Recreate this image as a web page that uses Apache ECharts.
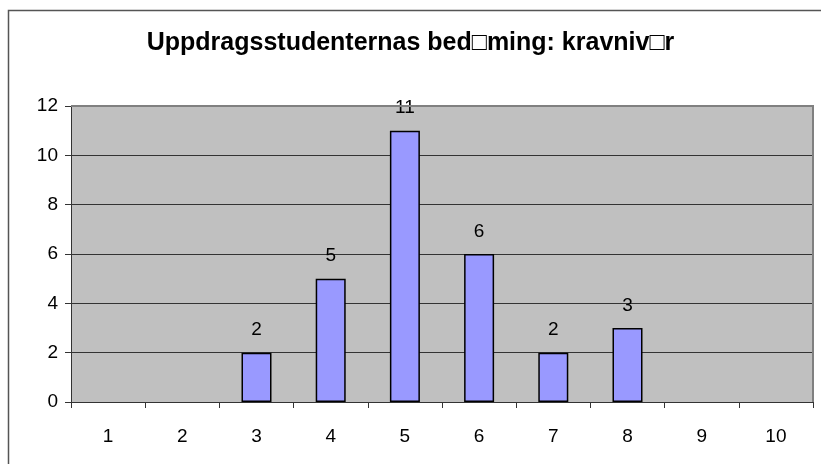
<!DOCTYPE html>
<html>
<head>
<meta charset="utf-8">
<script src="https://cdn.jsdelivr.net/npm/echarts@6/dist/echarts.min.js"></script>
<style>
html,body{margin:0;padding:0;background:#fff;}
#main{width:821px;height:464px;}
</style>
</head>
<body>
<div id="main"></div>
<script>
// data
var categories = ['1','2','3','4','5','6','7','8','9','10'];
var values = [0,0,2,5,11,6,2,3,0,0];
var titleText = 'Uppdragsstudenternas bed\u25A1ming: kravniv\u25A1r';

var font = '"Liberation Sans", Arial, sans-serif';
// no outline for empty bars
var barData = values.map(function(v){
	return v===0 ? {value:v,itemStyle:{borderWidth:0}} : v;
});
var chart = echarts.init(document.getElementById('main'));
chart.setOption({
	backgroundColor:'#fff',
	animation:false,
	title:{
		text:titleText,
		left:'center',
		top:26,
		textStyle:{fontFamily:font,fontSize:25,fontWeight:'bold',color:'#000'}
	},
	graphic:[
		{type:'rect',shape:{x:8.5,y:10.5,width:830,height:470},style:{fill:null,stroke:'#555',lineWidth:1.5},z:-1},
		//plot border top/right
		{type:'polyline',shape:{points:[[71,106],[813,106],[813,402]]},style:{stroke:'#808080',lineWidth:2,fill:null},z:5}
	],
	grid:{left:71,top:106,width:742,height:296,show:true,backgroundColor:'#c0c0c0',borderWidth:0},
	xAxis:{
		type:'category',
		data:categories,
		axisLine:{lineStyle:{color:'#333',width:1}},
		axisTick:{show:true,length:6,lineStyle:{color:'#333'}},
		axisLabel:{fontFamily:font,fontSize:19,color:'#000',margin:25}
	},
	yAxis:{
		type:'value',
		min:0,max:12,interval:2,
		axisLine:{show:true,lineStyle:{color:'#333',width:1}},
		axisTick:{show:true,length:6,lineStyle:{color:'#333'}},
		axisLabel:{fontFamily:font,fontSize:19,color:'#000',margin:13},
		splitLine:{lineStyle:{color:'#333',width:1}}
	},
	series:[{
		type:'bar',
		data:barData,
		barWidth:30,
		itemStyle:{color:'#9999ff',borderColor:'#000',borderWidth:1.5},
		label:{
			show:true,position:'top',distance:13,
			fontFamily:font,fontSize:19,color:'#000',
			formatter:function(p){return p.value>0?p.value:'';}
		}
	}]
});
</script>
</body>
</html>
